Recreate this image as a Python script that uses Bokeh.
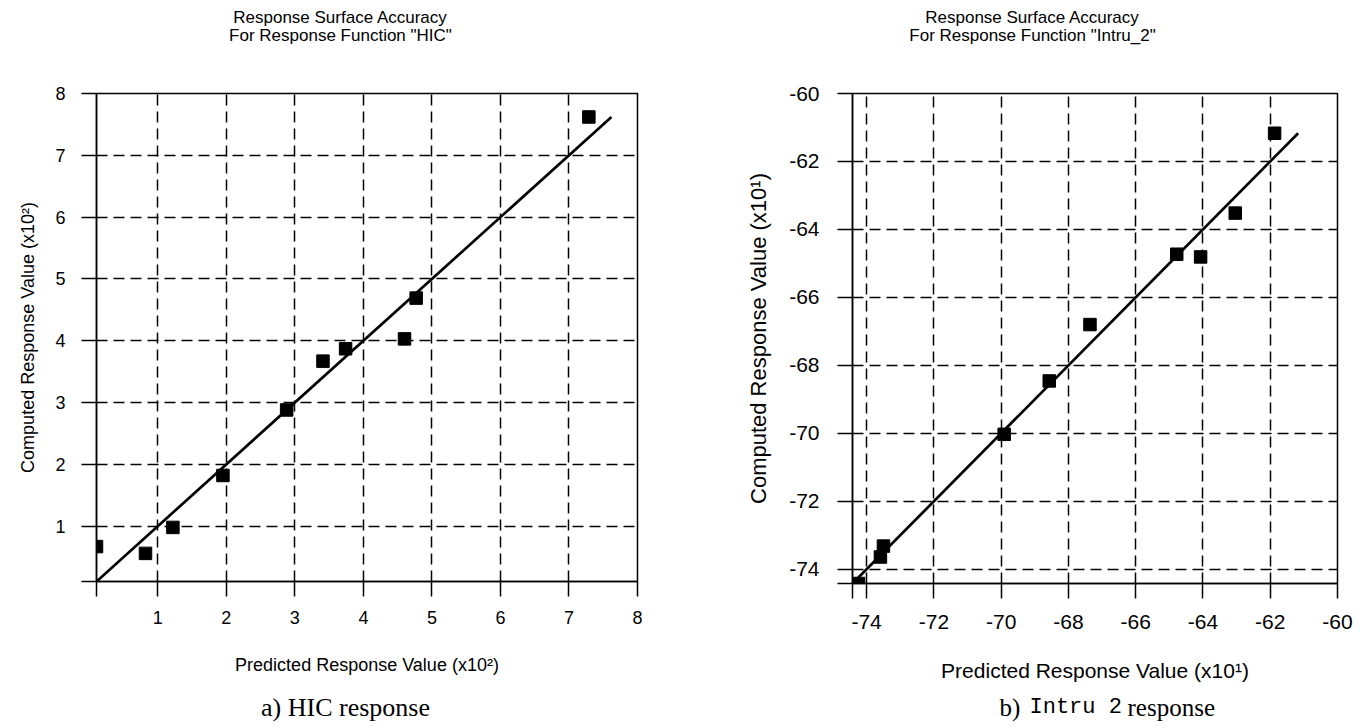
from bokeh.plotting import figure
from bokeh.layouts import row, column
from bokeh.models import Range1d, FixedTicker, Label
from bokeh.embed import file_html
from bokeh.resources import INLINE

# ---- data ----
hic_predicted = [0.105, 0.82, 1.22, 1.95, 2.88, 3.41, 3.74, 4.60, 4.77, 7.29]
hic_computed = [0.67, 0.56, 0.98, 1.82, 2.88, 3.67, 3.87, 4.03, 4.69, 7.62]
hic_ticks = [1, 2, 3, 4, 5, 6, 7, 8]

intru_predicted = [-74.24, -73.59, -73.50, -69.91, -68.57, -67.36, -64.78, -64.07, -63.04, -61.87]
intru_computed = [-74.42, -73.64, -73.32, -70.03, -68.46, -66.80, -64.73, -64.81, -63.52, -61.17]
intru_ticks = [-74, -72, -70, -68, -66, -64, -62, -60]

SANS = "Liberation Sans"
SERIF = "Liberation Serif"
MONO = "Liberation Mono"

PAGE_W = 1357
TOP_H = 50      # title strip height
BOT_H = 40      # caption strip height
BORDER_TOP = 43  # frames start at page y 93


def strip(height):
    s = figure(output_backend="svg", toolbar_location=None,
               width=PAGE_W, height=height,
               x_range=Range1d(0, PAGE_W), y_range=Range1d(0, height),
               x_axis_type=None, y_axis_type=None,
               min_border=0, min_border_left=0, min_border_right=0,
               min_border_top=0, min_border_bottom=0)
    s.outline_line_color = None
    s.background_fill_color = "white"
    s.border_fill_color = "white"
    s.grid.visible = False
    return s


def panel(pred, comp, ticks, xlabel, ylabel,
          fw, fh, bl, br, bb, tick_fs, xlabel_fs, ylabel_fs,
          x_std, x_lab_std, y_std, y_lab_std):
    lo = min(min(pred), min(comp))
    hi = ticks[-1]
    p = figure(output_backend="svg", toolbar_location=None,
               x_range=Range1d(lo, hi), y_range=Range1d(lo, hi),
               frame_width=fw, frame_height=fh,
               min_border_left=bl, min_border_right=br,
               min_border_top=BORDER_TOP, min_border_bottom=bb)
    p.background_fill_color = "white"
    p.border_fill_color = "white"
    p.outline_line_color = "black"
    p.outline_line_width = 1.5

    all_ticks = [lo] + ticks
    overrides = {lo: ""}
    for t in ticks:
        overrides[t] = str(t)
    for ax in (p.xaxis[0], p.yaxis[0]):
        ax.ticker = FixedTicker(ticks=all_ticks)
        ax.major_label_overrides = overrides
        ax.axis_line_color = "black"
        ax.axis_line_width = 1.5
        ax.major_tick_line_color = "black"
        ax.major_tick_line_width = 1.5
        ax.major_tick_out = 15
        ax.major_tick_in = 0
        ax.minor_tick_line_color = None
        ax.major_label_text_font = SANS
        ax.major_label_text_font_size = tick_fs
        ax.major_label_text_color = "black"
        ax.axis_label_text_font = SANS
        ax.axis_label_text_font_style = "normal"
        ax.axis_label_text_color = "black"
    p.xaxis.axis_label_text_font_size = xlabel_fs
    p.yaxis.axis_label_text_font_size = ylabel_fs
    p.xaxis.major_label_standoff = x_std
    p.xaxis.axis_label_standoff = x_lab_std
    p.yaxis.major_label_standoff = y_std
    p.yaxis.axis_label_standoff = y_lab_std
    p.xaxis.axis_label = xlabel
    p.yaxis.axis_label = ylabel

    for g in (p.xgrid[0], p.ygrid[0]):
        g.ticker = FixedTicker(ticks=ticks[:-1])
        g.grid_line_color = "black"
        g.grid_line_width = 1.5
        g.grid_line_dash = "11 6"
        g.grid_line_alpha = 1.0

    lmin = min(min(pred), min(comp))
    lmax = max(max(pred), max(comp))
    p.line(x=[lmin, lmax], y=[lmin, lmax], line_color="black", line_width=2.7)
    p.scatter(x=pred, y=comp, marker="square", size=12.5,
              fill_color="black", line_color="black")
    return p


# ---- title strip ----
top = strip(TOP_H)
for cx, t1, t2 in ((340, "Response Surface Accuracy", 'For Response Function "HIC"'),
                   (1032, "Response Surface Accuracy", 'For Response Function "Intru_2"')):
    for txt, ypage in ((t1, 17), (t2, 35)):
        top.add_layout(Label(x=cx, y=TOP_H - ypage, text=txt, text_font=SANS,
                             text_font_size="17px", text_align="center",
                             text_baseline="middle", text_color="black"))

# ---- panels ----
# left frame: page 96..637 x 93..581
p1 = panel(hic_predicted, hic_computed, hic_ticks,
           "Predicted Response Value (x10\u00b2)", "Computed Response Value (x10\u00b2)",
           541, 488, 96, 63, 100, "18px", "18px", "18px",
           14, 28, 16, 14)
# right frame: page 852..1337 x 93..583
p2 = panel(intru_predicted, intru_computed, intru_ticks,
           "Predicted Response Value (x10\u00b9)", "Computed Response Value (x10\u00b9)",
           485, 490, 152, 20, 98, "21px", "21px", "22px",
           16, 27, 18, 15)

# ---- caption strip ----
bot = strip(BOT_H)
cap_y = BOT_H - (704 - 681)
bot.add_layout(Label(x=345, y=cap_y, text="a) HIC response", text_font=SERIF,
                     text_font_size="26px", text_align="center",
                     text_baseline="middle", text_color="black"))
bot.add_layout(Label(x=999, y=cap_y, text="b)", text_font=SERIF,
                     text_font_size="25px", text_align="left",
                     text_baseline="middle", text_color="black"))
bot.add_layout(Label(x=1029, y=cap_y, text="Intru 2", text_font=MONO,
                     text_font_size="22px", text_align="left",
                     text_baseline="middle", text_color="black"))
bot.add_layout(Label(x=1127, y=cap_y, text="response", text_font=SERIF,
                     text_font_size="25px", text_align="left",
                     text_baseline="middle", text_color="black"))

layout = column(top, row(p1, p2), bot)
open("out.html", "w").write(file_html(layout, INLINE))
